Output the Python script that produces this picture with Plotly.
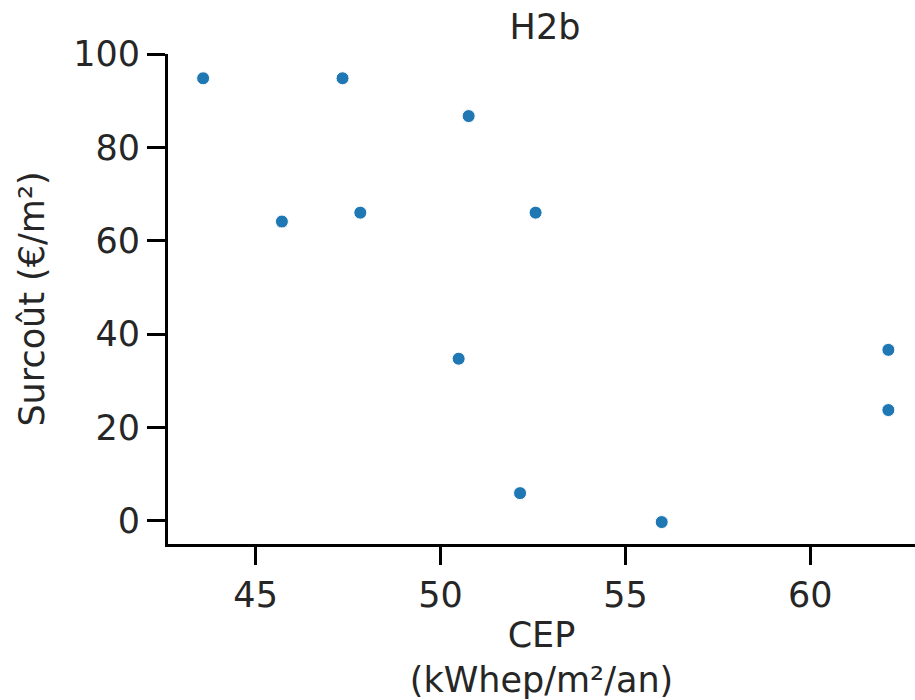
import plotly.graph_objects as go

cep = [43.58, 47.35, 50.76, 45.71, 47.83, 52.57, 50.49, 62.11, 62.11, 52.15, 55.98]
surcout = [94.8, 94.8, 86.7, 64.1, 66.0, 66.0, 34.7, 36.6, 23.7, 5.9, -0.3]

x_ticks = [45, 50, 55, 60]
y_ticks = [0, 20, 40, 60, 80, 100]

FONT = "DejaVu Sans"
FS = 35
W, H = 915, 700

fig = go.Figure()
fig.add_trace(go.Scatter(
    x=cep, y=surcout, mode="markers",
    marker=dict(color="#1f77b4", size=13, line=dict(color="white", width=1)),
    showlegend=False,
))

fig.update_layout(
    width=W, height=H,
    margin=dict(l=168, r=0, t=54, b=156),
    paper_bgcolor="white", plot_bgcolor="white",
    font=dict(family=FONT, size=FS, color="#262626"),
    title=dict(text="H2b", x=545/W, xanchor="center", y=1 - 27/H, yanchor="middle",
               font=dict(family=FONT, size=FS, color="#262626")),
    xaxis=dict(
        range=[42.63, 62.83], tickvals=x_ticks, ticktext=[str(v) for v in x_ticks],
        showgrid=False, zeroline=False, showline=True, linecolor="black", linewidth=3,
        ticks="outside", ticklen=18, tickwidth=3, tickcolor="black",
        tickfont=dict(family=FONT, size=FS, color="#262626"),
        title=dict(text="CEP<br>(kWhep/m²/an)", standoff=12,
                   font=dict(family=FONT, size=FS, color="#262626")),
        automargin=False,
    ),
    yaxis=dict(
        range=[-5, 100], tickvals=y_ticks, ticktext=[str(v) for v in y_ticks],
        showgrid=False, zeroline=False, showline=True, linecolor="black", linewidth=3,
        ticks="outside", ticklen=18, tickwidth=3, tickcolor="black",
        tickfont=dict(family=FONT, size=FS, color="#262626"),
        title=dict(text="Surcoût (€/m²)", standoff=18,
                   font=dict(family=FONT, size=FS, color="#262626")),
        automargin=False,
    ),
)

fig.write_html(
    "out.html",
    config={"displayModeBar": False},
    post_script="document.body.style.margin='0';document.body.style.overflow='hidden';",
)
